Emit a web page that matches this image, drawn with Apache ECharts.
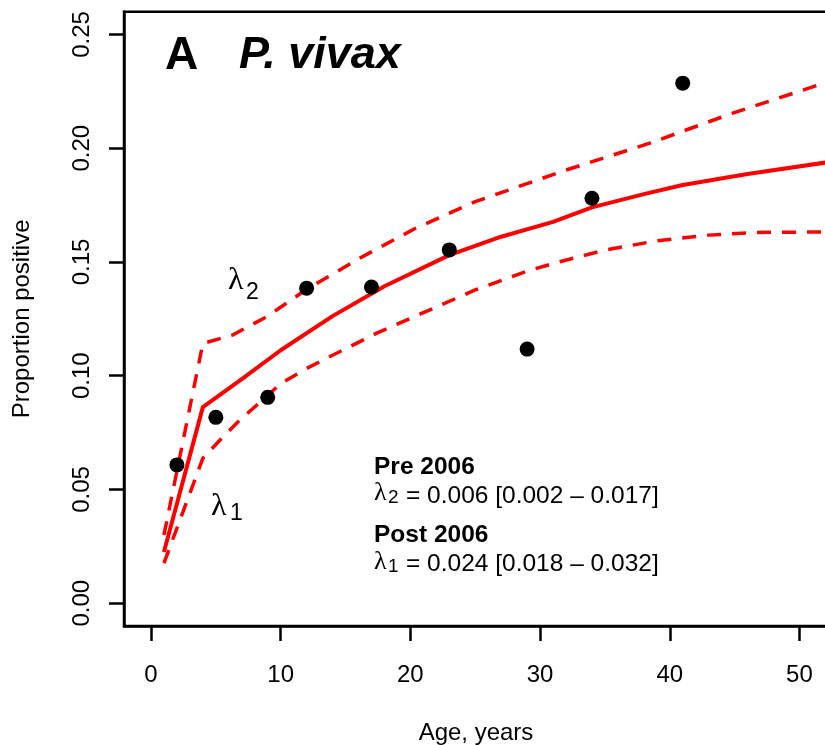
<!DOCTYPE html>
<html>
<head>
<meta charset="utf-8">
<script src="https://cdn.jsdelivr.net/npm/echarts@6/dist/echarts.min.js"></script>
<style>
html,body{margin:0;padding:0;background:#fff;}
#chart{width:825px;height:745px;}
</style>
</head>
<body>
<div id="chart"></div>
<script>
// Observed data: age (years) and proportion positive
const ages = [2, 5, 9, 12, 17, 23, 29, 34, 41];
const propPositive = [0.0608, 0.0817, 0.0905, 0.1385, 0.1390, 0.1553, 0.1117, 0.1780, 0.2286];

// Fitted curve (solid)
const fitAge   = [1, 4, 7, 10, 14, 18, 23, 27, 31, 34, 38, 41, 46, 52, 55];
const fitValue = [0.0225, 0.0862, 0.0985, 0.1112, 0.1262, 0.1393, 0.1530, 0.1611, 0.1676, 0.1740, 0.1798, 0.1838, 0.1887, 0.1937, 0.1955];

// Upper 95% bound (dashed)
const upperAge   = [1, 4, 6.3, 9, 12, 16.3, 20.4, 25, 32, 38.4, 44.8, 52, 55];
const upperValue = [0.0300, 0.1142, 0.1179, 0.1262, 0.1380, 0.1523, 0.1648, 0.1765, 0.1904, 0.2021, 0.2153, 0.2288, 0.2350];

// Lower 95% bound (dashed)
const lowerAge   = [1, 4, 5.4, 6.8, 10, 12, 14, 17.4, 21, 25, 29, 31.5, 35, 38.9, 43, 46.8, 52, 55];
const lowerValue = [0.0176, 0.0637, 0.0722, 0.0802, 0.0965, 0.1032, 0.1090, 0.1187, 0.1277, 0.1377, 0.1460, 0.1501, 0.1552, 0.1592, 0.1618, 0.1630, 0.1632, 0.1632];

// Tick labels
const xTicks = [0, 10, 20, 30, 40, 50];
const yTicks = [0, 0.05, 0.10, 0.15, 0.20, 0.25];

const zip = (a, b) => a.map((v, i) => [v, b[i]]);
const FONT = "'Liberation Sans', Arial, sans-serif";
const SERIF = "'Liberation Serif', 'Times New Roman', serif";

const chart = echarts.init(document.getElementById('chart'), null, {renderer: 'canvas'});

function txt(x, y, text, size, opts) {
  opts = opts || {};
  return {
    type: 'text', x: x, y: y, z: 100,
    style: {
      text: text,
      fill: '#000',
      font: (opts.style || 'normal') + ' ' + (opts.weight || 'normal') + ' ' + size + 'px ' + (opts.family || FONT),
      textAlign: 'left', align: 'left',
      textVerticalAlign: 'middle', verticalAlign: 'middle'
    }
  };
}

const option = {
  animation: false,
  backgroundColor: '#fff',
  grid: {
    left: 124, top: 11.7, right: -3, bottom: 119,
    containLabel: false, outerBoundsMode: 'none',
    show: true, borderColor: '#000', borderWidth: 2.5, backgroundColor: 'transparent'
  },
  xAxis: {
    type: 'value', min: -2.08, max: 52.2,
    axisLine: {show: true, onZero: false, lineStyle: {color: '#000', width: 2.5}},
    splitLine: {show: false},
    axisTick: {show: true, length: 15, inside: false, lineStyle: {color: '#000', width: 2.5}, customValues: xTicks},
    axisLabel: {customValues: xTicks, fontSize: 24, color: '#000', margin: 37, fontFamily: FONT},
    name: 'Age, years', nameLocation: 'middle', nameGap: 95,
    nameTextStyle: {fontSize: 24, color: '#000', fontFamily: FONT}
  },
  yAxis: {
    type: 'value', min: -0.01, max: 0.26,
    axisLine: {show: true, onZero: false, lineStyle: {color: '#000', width: 2.5}},
    splitLine: {show: false},
    axisTick: {show: true, length: 15, inside: false, lineStyle: {color: '#000', width: 2.5}, customValues: yTicks},
    axisLabel: {customValues: yTicks, rotate: 90, fontSize: 24, color: '#000', margin: 30, fontFamily: FONT,
      formatter: v => v.toFixed(2)},
    name: 'Proportion positive', nameLocation: 'middle', nameGap: 90, nameRotate: 90,
    nameTextStyle: {fontSize: 24, color: '#000', fontFamily: FONT}
  },
  series: [
    {
      type: 'line', name: 'fit', data: zip(fitAge, fitValue), showSymbol: false, symbol: 'none',
      lineStyle: {color: '#ff0000', width: 4}, z: 3
    },
    {
      type: 'line', name: 'upper', data: zip(upperAge, upperValue), showSymbol: false, symbol: 'none',
      lineStyle: {color: '#ff0000', width: 3.5, type: [14, 11]}, z: 3
    },
    {
      type: 'line', name: 'lower', data: zip(lowerAge, lowerValue), showSymbol: false, symbol: 'none',
      lineStyle: {color: '#ff0000', width: 3.5, type: [14, 11]}, z: 3
    },
    {
      type: 'scatter', name: 'observed', data: zip(ages, propPositive),
      symbol: 'circle', symbolSize: 15, itemStyle: {color: '#000', opacity: 1}, z: 5
    }
  ],
  graphic: [
    txt(165, 56, 'A', 46, {weight: 'bold'}),
    txt(239, 56, 'P. vivax', 45, {weight: 'bold', style: 'italic'}),
    txt(228, 281, 'λ', 32, {family: SERIF}),
    txt(246, 293, '2', 23),
    txt(211, 507, 'λ', 32, {family: SERIF}),
    txt(230, 514, '1', 23),
    txt(374, 467, 'Pre 2006', 24.5, {weight: 'bold'}),
    txt(374, 493, 'λ', 26, {family: SERIF}),
    txt(388, 498, '2', 19),
    txt(406, 496, '= 0.006 [0.002 – 0.017]', 24.5),
    txt(374, 535, 'Post 2006', 24.5, {weight: 'bold'}),
    txt(374, 562, 'λ', 26, {family: SERIF}),
    txt(388, 567, '1', 19),
    txt(406, 564, '= 0.024 [0.018 – 0.032]', 24.5)
  ]
};
chart.setOption(option);
</script>
</body>
</html>
